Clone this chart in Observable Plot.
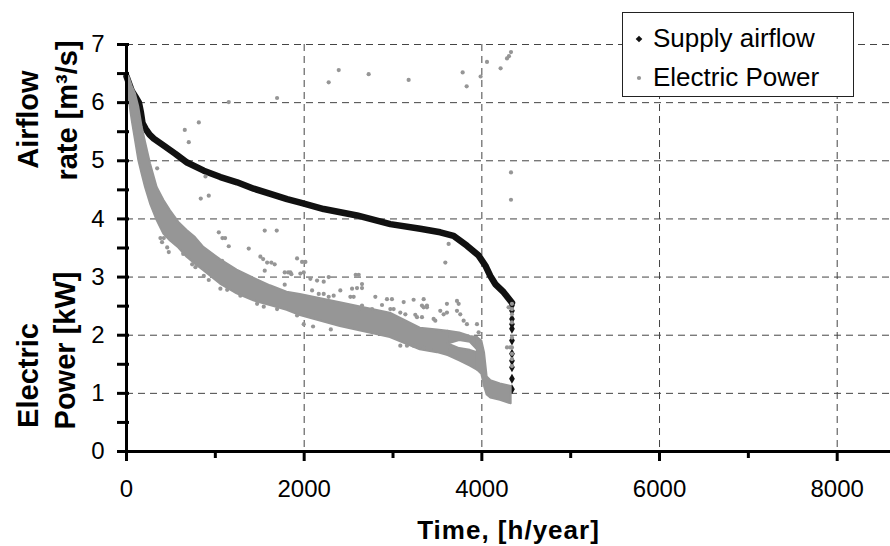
<!DOCTYPE html>
<html><head><meta charset="utf-8">
<script src="https://cdn.jsdelivr.net/npm/d3@7"></script>
<script src="https://cdn.jsdelivr.net/npm/@observablehq/plot@0.6"></script>
<style>
body{margin:0;background:#fff;}
#wrap{position:relative;width:890px;height:546px;font-family:"Liberation Sans",Arial,sans-serif;}
#wrap svg{display:block;}
#legend{position:absolute;left:622px;top:12px;}
</style></head><body><div id="wrap"></div>
<script>
// ---- data ----
const seriesNames = ["Supply airflow", "Electric Power"];
const seriesColors = ["#111111", "#969696"];

// Supply airflow (duration curve)
const airflowX = [0,60,110,140,160,180,215,260,307,420,551,682,870,1057,1245,1432,1620,1807,1957,2220,2595,2970,3307,3532,3682,3832,3964,4039,4095,4151,4245,4339];
const airflowY = [6.45,6.2,6.08,6.0,5.85,5.65,5.55,5.45,5.38,5.26,5.12,4.97,4.83,4.72,4.63,4.52,4.43,4.34,4.28,4.17,4.06,3.91,3.83,3.77,3.71,3.54,3.37,3.20,3.02,2.88,2.74,2.56];
// Supply airflow: last points dropping vertically
const airflowTailX = [4339,4339,4339,4339,4339,4339,4339,4339,4339,4339,4339];
const airflowTailY = [2.51,2.42,2.28,2.19,2.11,1.91,1.68,1.56,1.45,1.25,1.07];

// Electric Power: dense band of points (lower / upper edge of the cloud)
const bandSeries = [
  "main","main","main","main","main","main","main","main","main","main","main","main","main","main","main","main","main","main","main","main","main","main","main","main","main","main",
  "upper","upper","upper","upper",
  "lower","lower","lower","lower",
  "end","end","end","end","end","end","end"];
const bandX = [0,26,64,101,139,176,214,270,345,420,495,589,682,776,870,1057,1245,1432,1620,1807,1957,2407,2970,3307,3500,3620,
  3620,3750,3870,3950,
  3620,3750,3870,3950,
  3950,4000,4030,4060,4100,4208,4330];
const bandLow = [6.30,6.09,5.69,5.35,5.00,4.77,4.54,4.26,3.97,3.74,3.62,3.50,3.34,3.22,3.11,2.88,2.71,2.59,2.51,2.43,2.34,2.15,1.96,1.75,1.70,1.65,
  1.85,1.91,1.88,1.75,
  1.65,1.56,1.47,1.40,
  1.40,1.33,1.12,0.97,0.92,0.88,0.82];
const bandHigh = [6.60,6.45,6.28,6.15,5.92,5.58,5.32,4.95,4.54,4.32,4.14,3.94,3.80,3.68,3.51,3.30,3.12,2.98,2.85,2.74,2.70,2.56,2.38,2.12,2.09,2.07,
  2.07,2.04,1.98,1.96,
  1.85,1.77,1.74,1.70,
  1.96,1.90,1.70,1.28,1.22,1.16,1.12];

// Electric Power: scattered points outside the band
const powerX = [2276,2389,2726,3176,3784,3829,3986,4058,4211,4283,4305,4328,4328,4328,
  1151,1695,814,656,701,345,889,836,926,1039,1556,1691,1080,1110,3626,3589,
  1151,1376,1507,1538,1583,1630,1668,1556,1781,1820,1856,1920,1781,
  382,420,400,458,476,638,739,776,870,926,1057,1133,1282,1470,1545,1695,1920,907,1076,
  1976,2014,1845,1957,1995,2580,2614,2070,2145,2220,2276,
  2539,2595,2651,2651,2089,2164,2220,2276,2332,2407,2520,2557,2801,2932,2988,3120,3232,3345,
  2876,2970,3007,3082,3139,3326,3382,3251,3270,2651,2614,2764,3457,
  3082,3157,3232,3345,3420,1995,2100,2300,
  3345,3382,3326,3476,3607,3532,3570,3607,3720,3739,3720,3757,3795,3832,3945,3964,
  4339,4339,4339,4339,4339,4339,4339,4339,4339,4301,4283,4320];
const powerY = [6.35,6.56,6.49,6.39,6.52,6.28,6.45,6.70,6.59,6.76,6.80,6.87,4.80,4.33,
  6.01,6.08,5.66,5.53,5.32,4.87,4.73,4.35,4.40,3.77,3.80,3.80,3.67,3.67,3.57,3.25,
  3.53,3.49,3.35,3.31,3.25,3.25,3.22,3.11,3.08,3.08,3.05,3.32,2.87,
  3.67,3.67,3.60,3.51,3.43,3.40,3.22,3.17,3.02,2.95,2.80,2.78,2.68,2.54,2.49,2.45,2.34,3.11,3.28,
  3.26,3.26,3.08,3.06,3.08,3.04,3.04,2.97,2.94,2.92,3.00,
  2.80,2.81,2.81,2.88,2.77,2.71,2.71,2.66,2.68,2.77,2.66,2.66,2.66,2.62,2.62,2.57,2.61,2.62,
  2.52,2.45,2.45,2.39,2.36,2.51,2.51,2.35,2.31,2.51,2.45,2.45,2.28,
  1.82,1.82,1.82,1.79,1.76,2.19,2.15,2.10,
  2.48,2.48,2.31,2.25,2.54,2.42,2.36,2.39,2.59,2.54,2.42,2.36,2.25,2.19,2.19,2.05,
  2.54,2.45,2.36,2.22,1.96,1.79,1.68,1.59,1.47,2.48,1.79,1.79];

// Axes
const xMajor = [0,2000,4000,6000,8000];
const xMinor = [1000,3000,5000,7000];
const yMajor = [0,1,2,3,4,5,6,7];
const yMinor = [0.5,1.5,2.5,3.5,4.5,5.5,6.5];
const gridXTicks = [2000,4000,6000,8000];
const gridYTicks = [1,2,3,4,5,6,7];
const yTitleTop = ["Airflow", "rate [m³/s]"];
const yTitleBottom = ["Electric", "Power [kW]"];
const xTitle = "Time, [h/year]";

// ---- build tables ----
const airflowRows = airflowX.map((x,i)=>({x, y: airflowY[i]}));
const tailRows = airflowTailX.map((x,i)=>({x, y: airflowTailY[i]}));
const bandRows = bandX.map((x,i)=>({x, low: bandLow[i], high: bandHigh[i], series: bandSeries[i]}));
const powerRows = powerX.map((x,i)=>({x, y: powerY[i]}));
const bandGroups = Array.from(new Set(bandSeries));

const font = "'Liberation Sans', Arial, sans-serif";
const fmt = d => String(d);
const titleOpts = {frameAnchor:"left", rotate:-90, fontSize:29, fontWeight:"bold", lineAnchor:"bottom", textAnchor:"middle", fill:"#000"};

const chart = Plot.plot({
  width: 890, height: 546,
  marginLeft: 126, marginRight: 0, marginTop: 44, marginBottom: 95,
  x: {domain: [0, 8600], label: null},
  y: {domain: [0, 7], label: null},
  style: {fontFamily: font, background: "white", color: "#000", overflow: "visible"},
  marks: [
    Plot.gridY(gridYTicks, {stroke: "#444", strokeOpacity: 1, strokeWidth: 1, strokeDasharray: "7,5"}),
    Plot.gridX(gridXTicks, {stroke: "#444", strokeOpacity: 1, strokeWidth: 1, strokeDasharray: "7,5"}),
    Plot.line(airflowRows, {x: "x", y: "y", stroke: seriesColors[0], strokeWidth: 6.5}),
    Plot.dot(tailRows, {x: "x", y: "y", symbol: "diamond", r: 3, fill: seriesColors[0]}),
    ...bandGroups.map(s => Plot.areaY(bandRows.filter(d => d.series === s),
      {x: "x", y1: "low", y2: "high", fill: seriesColors[1], stroke: seriesColors[1], strokeWidth: 2,
       strokeLinejoin: "round", curve: "linear"})),
    Plot.dot(powerRows, {x: "x", y: "y", r: 2.1, fill: seriesColors[1]}),
    Plot.ruleX([0], {stroke: "#000", strokeWidth: 3}),
    Plot.ruleY([0], {stroke: "#000", strokeWidth: 3}),
    Plot.axisY(yMajor, {anchor: "left", tickSize: 12, dx: 3, tickPadding: 13, strokeWidth: 3, fontSize: 24, tickFormat: fmt, label: null}),
    Plot.axisY(yMinor, {anchor: "left", tickSize: 12, dx: 3, strokeWidth: 3, tickFormat: () => "", label: null}),
    Plot.axisX(xMajor, {anchor: "bottom", tickSize: 10, tickPadding: 18, strokeWidth: 3, fontSize: 24, tickFormat: fmt, label: null}),
    Plot.axisX(xMinor, {anchor: "bottom", tickSize: 7, strokeWidth: 3, tickFormat: () => "", label: null}),
    Plot.text([yTitleTop[0]], {...titleOpts, text: d => d, dx: -89, dy: -128.5}),
    Plot.text([yTitleTop[1]], {...titleOpts, text: d => d, dx: -50, dy: -137.5}),
    Plot.text([yTitleBottom[0]], {...titleOpts, text: d => d, dx: -89, dy: 127.5}),
    Plot.text([yTitleBottom[1]], {...titleOpts, text: d => d, dx: -52, dy: 102.5}),
    Plot.text([xTitle], {frameAnchor: "bottom", text: d => d, dy: 87, fontSize: 26, fontWeight: "bold", lineAnchor: "bottom", fill: "#000"})
  ]
});

d3.select(chart).selectAll("text").filter(function(){ return this.textContent === xTitle; }).style("letter-spacing", "1px");

const wrap = document.getElementById("wrap");
wrap.appendChild(chart);

// Legend (inside plot area, top-right)
const lg = d3.create("svg").attr("id", "legend").attr("width", 233).attr("height", 86);
lg.append("rect").attr("x", 0.5).attr("y", 0.5).attr("width", 231).attr("height", 84)
  .attr("fill", "#fff").attr("stroke", "#222").attr("stroke-width", 1);
const rows = seriesNames.map((name, i) => ({name, color: seriesColors[i], i}));
const g = lg.selectAll("g").data(rows).join("g").attr("transform", d => `translate(0,${d.i * 39})`);
g.append("path")
  .attr("d", d => d.i === 0 ? d3.symbol(d3.symbolDiamond2, 28)() : d3.symbol(d3.symbolCircle, 14)())
  .attr("transform", "translate(17,27)")
  .attr("fill", d => d.color);
g.append("text").attr("x", 31).attr("y", 35).attr("font-size", 26).attr("font-family", font)
  .attr("fill", "#000").text(d => d.name);
wrap.appendChild(lg.node());
</script>
</body></html>
